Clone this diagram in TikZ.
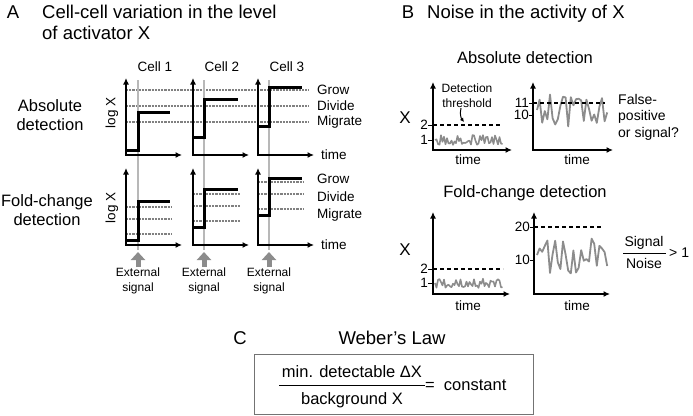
\documentclass[tikz,border=0pt]{standalone}
\usepackage{fontspec}
\setmainfont{Liberation Sans}
\usetikzlibrary{arrows.meta,positioning,calc}

\begin{document}
\begin{tikzpicture}[x=1pt,y=-1pt,
    ttl/.style={font=\fontsize{18.5}{21}\selectfont,inner sep=0pt},
    mid/.style={font=\fontsize{16.5}{19}\selectfont,inner sep=0pt,align=center},
    lbl/.style={font=\fontsize{13.5}{16}\selectfont,inner sep=0pt},
    small/.style={font=\fontsize{12}{15}\selectfont,inner sep=0pt,align=center},
    axes/.style={line width=2pt,{Latex[length=6.5pt,width=6pt]}-{Latex[length=6.5pt,width=6pt]}},
    level/.style={line width=2.6pt,black!50,dash pattern=on 2.2pt off 1pt},
    stepline/.style={line width=3pt,line join=miter},
    signal/.style={line width=1.8pt,black!28},
    extarrow/.style={line width=5pt,black!45,-{Triangle[length=8pt,width=14pt]}},
    thresh/.style={line width=2pt,dash pattern=on 4pt off 3pt},
    tick/.style={line width=1pt},
    noisy/.style={line width=1.6pt,black!45,line join=round}]
\useasboundingbox (0,0) rectangle (693,415);
\pgfmathsetseed{12}
%=============================================================================
%Panel A - cell-cell variation
%=============================================================================
\node[ttl] (labA) at (13,12) {A};
\node[ttl,anchor=base west] (titA1) at (42,18.5) {Cell-cell variation in the level};
\node[ttl,anchor=base west] (titA2) at (42,39.5) {of activator X};
\node[mid] (absA) at (50,115) {Absolute\\detection};
\node[mid] (foldA) at (47,210) {Fold-change\\detection};
\node[lbl,rotate=90] (logXup) at (112,113) {log X};
\node[lbl,rotate=90] (logXlo) at (112,208) {log X};
%Response levels, absolute detection (same for every cell)
\foreach \lv/\txt in {90/Grow,106/Divide,122/Migrate}{
    \draw[level] (126,\lv) -- (309,\lv);
    \node[lbl,anchor=west] (up\txt) at (317,\lv) {\txt};
}
\foreach \lv/\txt in {179/Grow,197/Divide,215/Migrate}
    \node[lbl,anchor=west] (lo\txt) at (317,\lv) {\txt};
\node[lbl,anchor=west] (timeAup) at (321,155) {time};
\node[lbl,anchor=west] (timeAlo) at (321,245) {time};
%Cells: axis x, signal x, end of step, low/high (upper), low/high (lower)
\foreach \ax/\gx/\ex/\lo/\hi/\lob/\hib [count=\c] in
    {126/138/170/150/112/240/201, 193/204/238/137/99/227/189, 258/269/302/126/87/215/178}{
    \draw[signal] (\gx,80) -- (\gx,250); %External signal time
    \node[lbl] (cell\c) at (\ax+29,67) {Cell \c};
    \draw[stepline] (\ax,\lo) -- (\gx,\lo) -- (\gx,\hi) -- (\ex,\hi);
    \draw[axes] (\ax,78) |- (\ax+56,155);
    %fold-change levels, relative to the start level of the cell
    \foreach \d in {6,21,33}
        \draw[level] (\ax,\lob-\d) -- (\ex+2,\lob-\d);
    \draw[stepline] (\ax,\lob) -- (\gx,\lob) -- (\gx,\hib) -- (\ex,\hib);
    \draw[axes] (\ax,168) |- (\ax+56,245);
    \draw[extarrow] (\gx,267) -- (\gx,252);
    \node[small] (ext\c) at (\gx,281) {External\\signal};
}
%=============================================================================
%Panel B - noise in X
%=============================================================================
\node[ttl] (labB) at (408,12) {B};
\node[ttl,anchor=base west] (titB) at (427,18.5) {Noise in the activity of X};
\node[mid] (absB) at (525,58) {Absolute detection};
\node[mid] (foldB) at (525,193) {Fold-change detection};
\node[font=\fontsize{17}{19}\selectfont,inner sep=0pt] (Xup) at (405,118) {X};
\node[font=\fontsize{17}{19}\selectfont,inner sep=0pt] (Xlo) at (405,250) {X};
%Absolute, low background
\draw[noisy] (435,140) \foreach \i in {1,...,45}{ -- ({435+1.5*\i},{140+5*(2*rnd-1)}) };
\draw[thresh] (433,125) -- (502,125);
\draw[axes] (433,82) |- (512,150);
\draw[tick] (428,125) -- (433,125);
\draw[tick] (428,140) -- (433,140);
\node[lbl,anchor=east] (twoA) at (428,125) {2};
\node[lbl,anchor=east] (oneA) at (428,140) {1};
\node[small] (thr) at (467,96) {Detection\\threshold};
\coordinate (thrtip) at (464,122);
\draw[line width=1pt,-{Latex[length=4pt,width=4pt]}] ([xshift=-6pt]thr.south) to[bend right=25] (thrtip);
\node[lbl] (timeB1) at (468,160) {time};
%Absolute, high background
\draw[noisy,line width=1.8pt] (537,110) \foreach \i in {1,...,27}{ -- ({537+2.6*\i},{109+18*(2*rnd-1)}) };
\draw[thresh] (533,103) -- (605,103);
\draw[axes] (533,82) |- (613,150);
\draw[tick] (529,103) -- (533,103);
\draw[tick] (529,115) -- (533,115);
\node[lbl,anchor=east] (elevenA) at (529,103) {11};
\node[lbl,anchor=east] (tenA) at (529,115) {10};
\node[lbl] (timeB2) at (577,160) {time};
\node[font=\fontsize{14}{16.5}\selectfont,inner sep=0pt,align=left,anchor=west] (falsepos) at (618,117) {False-\\positive\\or signal?};
%Fold-change, low background
\draw[noisy] (435,283) \foreach \i in {1,...,45}{ -- ({435+1.5*\i},{283+5*(2*rnd-1)}) };
\draw[thresh] (433,269) -- (503,269);
\draw[axes] (433,212) |- (510,294);
\draw[tick] (428,269) -- (433,269);
\draw[tick] (428,283) -- (433,283);
\node[lbl,anchor=east] (twoF) at (428,269) {2};
\node[lbl,anchor=east] (oneF) at (428,283) {1};
\node[lbl] (timeB3) at (468,306) {time};
%Fold-change, high background
\draw[noisy,line width=1.8pt] (537,255) \foreach \i in {1,...,27}{ -- ({537+2.6*\i},{255+19*(2*rnd-1)}) };
\draw[thresh] (534,227) -- (603,227);
\draw[axes] (534,212) |- (610,294);
\draw[tick] (530,227) -- (534,227);
\draw[tick] (530,260) -- (534,260);
\node[lbl,anchor=east] (twentyF) at (530,227) {20};
\node[lbl,anchor=east] (tenF) at (530,260) {10};
\node[lbl] (timeB4) at (577,306) {time};
\node[font=\fontsize{14}{16}\selectfont,inner sep=0pt] (sig) at (644,243) {Signal};
\node[font=\fontsize{14}{16}\selectfont,inner sep=0pt] (noi) at (644,263) {Noise};
\draw[line width=0.8pt] (623,253) -- (666,253);
\node[font=\fontsize{14}{16}\selectfont,inner sep=0pt,anchor=west] (gtone) at (669,253) {> 1};
%=============================================================================
%Panel C - Weber's law
%=============================================================================
\node[ttl] (labC) at (240,338) {C};
\node[ttl] (weber) at (392,338) {Weber’s Law};
\draw[black!55,line width=1pt] (254,354) rectangle (533,414);
\node[mid] (num) at (352,372) {min. detectable ΔX};
\node[mid] (den) at (352,400) {background X};
\draw[line width=0.9pt] (279,385) -- (425,385);
\node[mid,anchor=west] (const) at (425,385) {=\ \ constant};
\end{tikzpicture}
\end{document}
